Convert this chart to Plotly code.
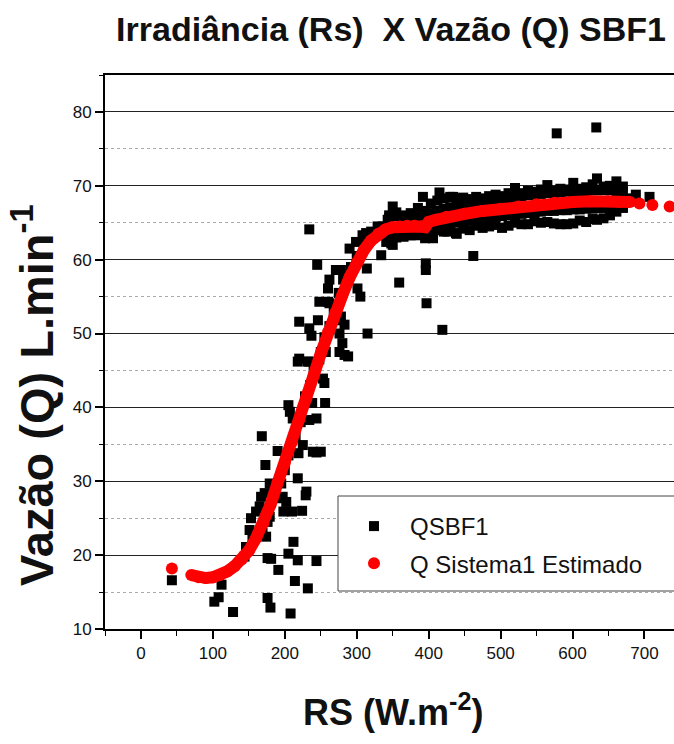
import plotly.graph_objects as go

FONT_N = "Liberation Sans Narrow, Arial Narrow, Liberation Sans, Arial, sans-serif"
FONT_B = "Liberation Sans, Arial, sans-serif"

scatter_rs = [43, 102, 108, 112, 128, 144, 146, 151, 153, 155, 160, 165, 167, 167, 169,
              172, 174, 176, 176, 176, 179, 179, 180, 181, 191, 195, 195, 197, 198, 202,
              205, 208, 210, 212, 214, 218, 218, 219, 224, 229, 230, 232, 244, 168, 173,
              190, 205, 207, 211, 225, 239, 244, 250, 234, 244, 238, 256, 253, 255, 218,
              220, 232, 234, 250, 257, 220, 234, 237, 246, 248, 260, 262, 260, 262, 271,
              276, 276, 278, 280, 283, 283, 288, 281, 271, 278, 234, 245, 290, 299, 301,
              305, 308, 313, 314, 315, 320, 329, 334, 341, 343, 348, 350, 350, 359, 369,
              383, 392, 396, 396, 397, 406, 415, 419, 426, 434, 438, 462, 578, 633,
              185, 200, 205, 215, 222, 228, 235, 240, 248, 255, 262, 268, 275, 285, 292,
              300, 310, 318, 326, 336]
scatter_q = [16.6, 13.7, 14.3, 16.0, 12.3, 19.8, 21.1, 23.4, 25.0, 22.1, 25.9, 26.6, 27.9, 22.7, 23.0,
             28.4, 22.5, 24.5, 19.6, 14.2, 25.2, 29.7, 12.9, 19.5, 18.0, 27.7, 29.7, 27.9, 25.9, 27.2,
             20.2, 12.1, 25.9, 21.8, 16.5, 19.3, 30.4, 33.8, 26.0, 28.1, 28.6, 15.5, 19.2, 36.1, 32.2,
             34.1, 40.3, 39.4, 38.5, 34.9, 34.0, 33.9, 34.0, 38.3, 38.5, 40.6, 40.6, 43.9, 43.3, 46.2,
             46.6, 46.2, 46.2, 47.5, 47.5, 51.6, 50.7, 49.7, 51.8, 54.3, 54.3, 54.1, 56.1, 57.3, 51.8,
             47.5, 50.0, 52.3, 48.7, 51.2, 47.1, 46.9, 57.3, 58.6, 58.6, 64.1, 59.3, 61.5, 62.4, 56.1,
             55.0, 63.3, 63.6, 58.8, 50.0, 63.8, 64.5, 60.6, 62.4, 65.4, 62.2, 62.0, 67.2, 56.9, 63.3,
             63.3, 68.5, 59.5, 58.6, 54.1, 62.9, 69.1, 50.5, 63.8, 68.5, 63.6, 60.5, 77.1, 77.9,
             28.5, 31.5, 33.5, 36.0, 38.0, 41.5, 43.0, 45.0, 46.5, 49.5, 51.0, 53.0, 55.5, 57.0, 59.0,
             60.5, 62.0, 63.0, 63.5, 64.5]

# dense band of QSBF1 points (columns)
band_rs = [345, 355, 365, 375, 385, 395, 403, 412, 421, 430, 439, 448, 457, 466, 475,
           484, 493, 502, 511, 520, 529, 538, 547, 556, 565, 574, 583, 592, 601, 610,
           619, 628, 634, 643, 652, 661, 670]
band_q_top = [66.0, 66.4, 66.0, 66.3, 67.0, 66.6, 67.6, 68.0, 68.3, 68.5, 68.3, 68.4, 68.2, 68.5, 68.3,
              68.6, 68.8, 68.6, 69.0, 69.7, 69.0, 69.3, 69.2, 69.5, 70.1, 69.3, 69.6, 69.5, 70.4, 69.6,
              69.8, 70.2, 71.0, 69.9, 70.0, 70.6, 69.9]
band_q_upper = [65.6, 65.9, 65.8, 65.9, 65.9, 65.8, 66.3, 66.6, 66.9, 67.1, 67.2, 67.4, 67.6, 67.8, 67.9,
                68.0, 68.1, 68.2, 68.3, 68.5, 68.6, 68.7, 68.8, 68.9, 69.0, 69.0, 69.1, 69.2, 69.2, 69.3,
                69.3, 69.4, 69.4, 69.4, 69.4, 69.3, 69.2]
band_q_lower = [63.4, 63.6, 63.5, 63.7, 63.8, 63.4, 64.0, 64.4, 64.7, 64.9, 65.0, 65.2, 65.3, 65.5, 65.6,
                65.7, 65.8, 65.9, 66.0, 66.1, 66.2, 66.3, 66.4, 66.5, 66.6, 66.6, 66.7, 66.7, 66.8, 66.8,
                66.9, 66.9, 67.0, 67.0, 67.1, 67.1, 67.2]
band_q_bottom = [62.8, 63.0, 63.1, 63.3, 63.4, 62.9, 63.5, 64.0, 63.8, 64.3, 63.5, 64.2, 64.0, 64.6, 64.3,
                 64.5, 64.7, 64.3, 64.6, 65.0, 64.8, 64.8, 65.2, 65.0, 65.1, 64.9, 64.8, 64.8, 64.9, 65.3,
                 65.1, 65.5, 65.4, 65.6, 66.0, 66.5, 67.0]
tail_rs = [679, 688, 707]
tail_q = [68.3, 68.8, 68.5]

# ---- Q Sistema1 Estimado ----
est_rs = [43, 70, 80, 90, 100, 110, 120, 130, 140, 150, 160, 170, 180, 190, 200, 210, 220, 230,
          240, 250, 260, 270, 280, 290, 300, 310, 320, 330, 340, 350, 360, 370, 380, 390, 395,
          400, 410, 425, 450, 475, 500, 525, 550, 575, 600, 625, 650, 665, 680, 693, 711, 735]
est_q = [18.2, 17.3, 17.0, 16.9, 17.0, 17.3, 17.8, 18.5, 19.4, 20.6, 22.3, 24.3, 26.8, 29.8, 32.5,
         35.3, 38.3, 41.2, 44.3, 47.3, 50.2, 52.8, 55.2, 57.6, 59.6, 61.3, 62.6, 63.5, 64.1, 64.4,
         64.5, 64.6, 64.6, 64.5, 64.4, 65.1, 65.4, 65.8, 66.2, 66.6, 66.9, 67.2, 67.5, 67.7, 67.8,
         67.9, 67.9, 67.8, 67.8, 67.6, 67.4, 67.2]

x_ticks = [0, 100, 200, 300, 400, 500, 600, 700]
y_ticks = [10, 20, 30, 40, 50, 60, 70, 80]

obs_x = scatter_rs + band_rs + band_rs + band_rs + band_rs + tail_rs
obs_y = scatter_q + band_q_top + band_q_upper + band_q_lower + band_q_bottom + tail_q

fig = go.Figure()
fig.add_trace(go.Scatter(x=obs_x, y=obs_y, mode="markers", name="QSBF1", legendgroup="a",
                         marker=dict(symbol="square", size=10, color="black",
                                     line=dict(width=0))))
fig.add_trace(go.Scatter(x=est_rs[1:-3], y=est_q[1:-3], mode="lines", showlegend=False,
                         hoverinfo="skip", line=dict(color="#ff0000", width=12)))
fig.add_trace(go.Scatter(x=est_rs, y=est_q, mode="markers", name="Q Sistema1 Estimado",
                         legendgroup="b",
                         marker=dict(symbol="circle", size=12, color="#ff0000",
                                     line=dict(width=0))))

W, H = 674, 744
L, R, T, B = 105, 0, 75, 115
pw, ph = W - L - R, H - T - B

def px_to_paper_x(px):
    return (px - L) / pw

def px_to_paper_y(py):
    return (H - B - py) / ph

fig.update_layout(
    width=W, height=H,
    margin=dict(l=L, r=R, t=T, b=B, pad=0),
    paper_bgcolor="white", plot_bgcolor="white",
    font=dict(family=FONT_N, color="#111", size=17),
    title=dict(text="<b>Irradiância (Rs)\u00a0\u00a0X Vazão (Q) SBF1</b>",
               font=dict(family=FONT_N, size=34, color="#111"),
               x=391 / W, xref="container", xanchor="center",
               y=1 - 29 / H, yref="container", yanchor="middle"),
    xaxis=dict(range=[-50, -50 + pw / 0.7193], tickvals=x_ticks, ticks="outside",
               ticklen=8, tickwidth=1.5, tickcolor="black", showline=True, linewidth=2,
               linecolor="black", mirror=True, showgrid=False, zeroline=False,
               tickfont=dict(size=17, family=FONT_N, color="#111"),
               minor=dict(dtick=50, tick0=-50, ticks="outside", ticklen=5,
                          tickwidth=1.2, tickcolor="black", showgrid=False)),
    yaxis=dict(range=[10, 85], tickvals=y_ticks, ticks="outside", ticklen=8, tickwidth=1.5,
               tickcolor="black", showline=True, linewidth=2, linecolor="black",
               mirror=False, showgrid=True, gridcolor="#222", gridwidth=1.3, zeroline=False,
               tickfont=dict(size=17, family=FONT_N, color="#111"),
               minor=dict(dtick=5, tick0=10, ticks="outside", ticklen=4, tickwidth=1.2,
                          tickcolor="black", showgrid=True, griddash="dot",
                          gridcolor="#aaa", gridwidth=1)),
    legend=dict(x=px_to_paper_x(338), y=px_to_paper_y(504), xanchor="left", yanchor="top",
                bgcolor="rgba(0,0,0,0)", borderwidth=0,
                font=dict(family=FONT_N, size=24, color="#111"),
                indentation=0, itemwidth=62, tracegroupgap=3),
    shapes=[
        dict(type="rect", xref="paper", yref="paper", layer="above",
             x0=px_to_paper_x(338), x1=px_to_paper_x(690),
             y0=px_to_paper_y(591), y1=px_to_paper_y(496),
             fillcolor="white", line=dict(color="#444", width=1)),
    ],
    annotations=[
        dict(text="<b>RS (W.m<sup>-2</sup>)</b>", xref="paper", yref="paper",
             x=px_to_paper_x(393), y=px_to_paper_y(710), xanchor="center", yanchor="middle",
             showarrow=False, font=dict(family=FONT_N, size=36, color="#111")),
        dict(text="<b>Vazão (Q) L.min<sup>-1</sup></b>", xref="paper", yref="paper",
             x=px_to_paper_x(33), y=px_to_paper_y(395), xanchor="center", yanchor="middle",
             textangle=-90, showarrow=False, font=dict(family=FONT_B, size=47, color="#111")),
    ],
    showlegend=True,
)

fig.write_html("out.html", config={"displayModeBar": False},
               post_script="document.body.style.margin='0px';"
                           "document.body.style.overflow='hidden';")
